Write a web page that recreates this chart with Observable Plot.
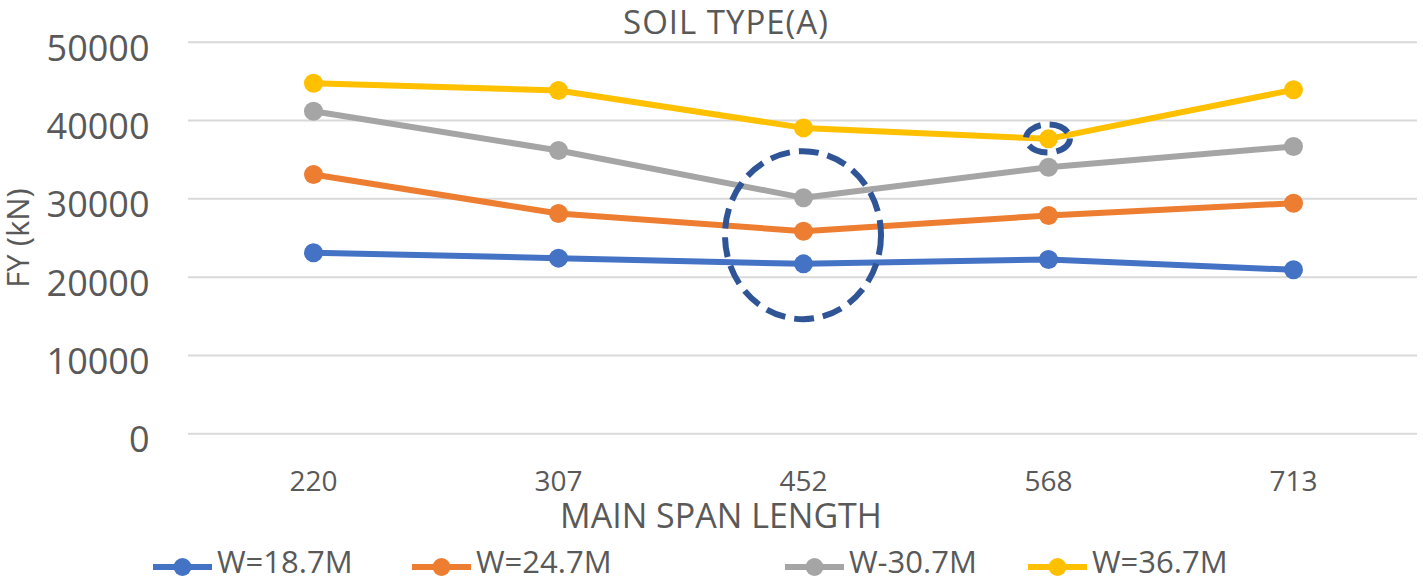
<!DOCTYPE html>
<html>
<head>
<meta charset="utf-8">
<script src="https://cdn.jsdelivr.net/npm/d3@7"></script>
<script src="https://cdn.jsdelivr.net/npm/@observablehq/plot@0.6"></script>
<style>
  html, body { margin: 0; padding: 0; background: #fff; }
  #root { position: relative; width: 1423px; height: 580px; overflow: hidden; font-family: 'Open Sans', sans-serif; color: #595959; }
  #title { position: absolute; top: -1px; left: 726px; transform: translateX(-50%); font-size: 33px; letter-spacing: 1px; white-space: nowrap; }
  #chart { position: absolute; top: 30px; left: 0; }
  .leg { position: absolute; top: 540px; height: 40px; }
  .leg svg { position: absolute; left: 0; top: 17px; }
  .leg span { position: absolute; left: 64px; top: 0px; font-size: 31px; white-space: nowrap; }
</style>
</head>
<body>
<div id="root">
  <div id="title"></div>
  <div id="chart"></div>
</div>
<script>
// ---- data ----
const titleText = "SOIL TYPE(A)";
const xLabel = "MAIN SPAN LENGTH";
const yLabel = "FY (kN)";
const categories = ["220", "307", "452", "568", "713"];
const series = ["W=18.7M", "W=24.7M", "W-30.7M", "W=36.7M"];
const w187 = [23110, 22430, 21700, 22250, 20940];
const w247 = [33100, 28120, 25870, 27870, 29440];
const w307 = [41190, 36170, 30130, 34040, 36680];
const w367 = [44760, 43830, 39060, 37660, 43920];
const yTicks = [0, 10000, 20000, 30000, 40000, 50000];
const colors = ["#4472C4", "#ED7D31", "#A5A5A5", "#FFC000"];
// annotation ellipse centres (category, value)
const annotX = ["452", "568"];
const annotY = [25300, 37640];

// ---- layout ----
const annotRadii = [[78, 84], [22, 14]];
const legendLeft = [153, 412, 785, 1028];

const values = [w187, w247, w307, w367];
const rows = series.flatMap((s, i) => categories.map((c, j) => ({series: s, x: c, y: values[i][j]})));

const seriesMarks = series.flatMap(s => {
  const d = rows.filter(r => r.series === s);
  return [
    Plot.line(d, {x: "x", y: "y", stroke: "series", strokeWidth: 6, strokeLinejoin: "round", strokeLinecap: "round"}),
    Plot.dot(d, {x: "x", y: "y", fill: "series", r: 9.5, stroke: "none"})
  ];
});

const chart = Plot.plot({
  width: 1423,
  height: 510,
  marginLeft: 188,
  marginRight: 6,
  marginTop: 11.7,
  marginBottom: 106.7,
  style: {fontFamily: "'Open Sans', sans-serif", color: "#595959", background: "transparent", overflow: "visible"},
  x: {type: "point", domain: categories, padding: 0.5, label: null},
  y: {domain: [0, 50000], label: null},
  color: {domain: series, range: colors},
  marks: [
    Plot.ruleY(yTicks, {stroke: "#D9D9D9", strokeWidth: 2}),
    Plot.axisY({ticks: yTicks, tickSize: 0, tickPadding: 39, fontSize: 36, dy: 7, label: null, tickFormat: d => String(d)}),
    Plot.axisX({tickSize: 0, tickPadding: 37, fontSize: 28, label: null}),
    Plot.text([xLabel], {text: d => d, frameAnchor: "bottom", lineAnchor: "middle", dx: -82, dy: 83, fontSize: 34}),
    Plot.text([yLabel], {text: d => d, frameAnchor: "left", textAnchor: "middle", lineAnchor: "middle", rotate: -90, dx: -169, fontSize: 31}),
    ...seriesMarks
  ]
});

const xs = chart.scale("x"), ys = chart.scale("y");
const svg = d3.select(chart);
annotX.forEach((c, i) => {
  svg.append("ellipse")
    .attr("cx", xs.apply(c))
    .attr("cy", ys.apply(annotY[i]))
    .attr("rx", annotRadii[i][0])
    .attr("ry", annotRadii[i][1])
    .attr("fill", "none")
    .attr("stroke", "#2F5597")
    .attr("stroke-width", 6)
    .attr("stroke-dasharray", "20 9");
});

document.getElementById("chart").appendChild(chart);
document.getElementById("title").textContent = titleText;

const root = document.getElementById("root");
series.forEach((s, i) => {
  const item = document.createElement("div");
  item.className = "leg";
  item.style.left = legendLeft[i] + "px";
  item.innerHTML = `<svg width="59" height="20"><line x1="0" x2="59" y1="10" y2="10" stroke="${colors[i]}" stroke-width="6" stroke-linecap="round"/><circle cx="29.5" cy="10" r="9" fill="${colors[i]}"/></svg><span></span>`;
  item.querySelector("span").textContent = s;
  root.appendChild(item);
});
</script>
</body>
</html>
